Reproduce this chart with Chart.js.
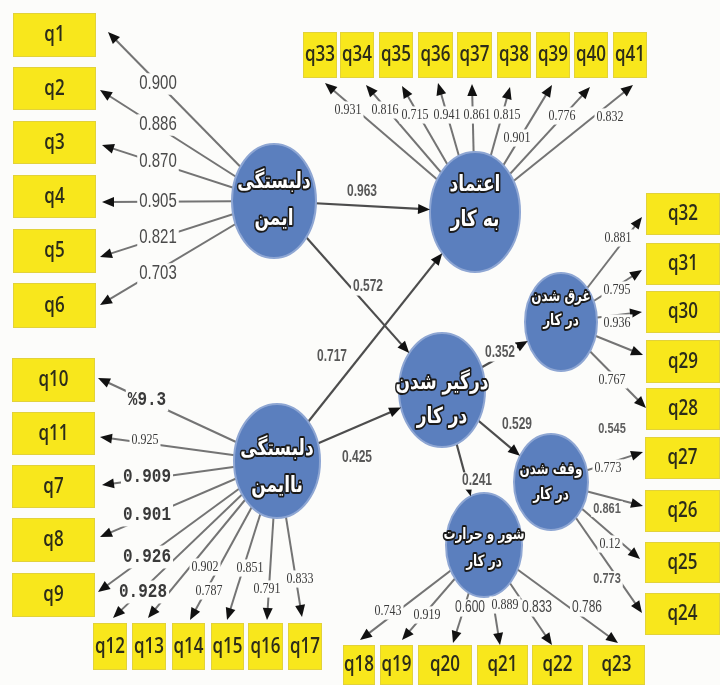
<!DOCTYPE html>
<html>
<head>
<meta charset="utf-8">
<script src="https://cdn.jsdelivr.net/npm/chart.js@4.4.0/dist/chart.umd.min.js"></script>
<style>
  html, body { margin: 0; padding: 0; background: #fcfcfa; }
  canvas { display: block; }
</style>
</head>
<body>
<canvas id="pathChart" width="720" height="685"></canvas>
<script>
// --- data -------------------------------------------------------------
const constructNames = [
  ['دلبستگی', 'ایمن'],
  ['دلبستگی', 'ناایمن'],
  ['اعتماد', 'به کار'],
  ['درگیر شدن', 'در کار'],
  ['غرق شدن', 'در کار'],
  ['وقف شدن', 'در کار'],
  ['شور و حرارت', 'در کار']
];

const securedItems = ['q1', 'q2', 'q3', 'q4', 'q5', 'q6'];
const securedLoadings = ['0.900', '0.886', '0.870', '0.905', '0.821', '0.703'];

const insecureItems = ['q10', 'q11', 'q7', 'q8', 'q9', 'q12', 'q13', 'q14', 'q15', 'q16', 'q17'];
const insecureLoadings = ['%9.3', '0.925', '0.909', '0.901', '0.926', '0.928', '0.902', '0.787', '0.851', '0.791', '0.833'];

const trustItems = ['q33', 'q34', 'q35', 'q36', 'q37', 'q38', 'q39', 'q40', 'q41'];
const trustLoadings = ['0.931', '0.816', '0.715', '0.941', '0.861', '0.815', '0.901', '0.776', '0.832'];

const absorptionItems = ['q32', 'q31', 'q30', 'q29', 'q28'];
const absorptionLoadings = ['0.881', '0.795', '0.936', '0.545', '0.767'];

const dedicationItems = ['q27', 'q26', 'q25', 'q24'];
const dedicationLoadings = ['0.773', '0.861', '0.12', '0.773'];

const vigorItems = ['q18', 'q19', 'q20', 'q21', 'q22', 'q23'];
const vigorLoadings = ['0.743', '0.919', '0.600', '0.889', '0.833', '0.786'];

const pathFrom = [0, 0, 1, 1, 3, 3, 3];
const pathTo = [2, 3, 2, 3, 4, 5, 6];
const pathCoefs = ['0.963', '0.572', '0.717', '0.425', '0.352', '0.529', '0.241'];

// --- layout (canvas units) ---------------------------------------------
// ellipse: cx, cy, rx, ry
const nodeLayout = [
  [274, 201, 42, 57], [277, 461, 43, 57], [475, 212, 45, 60], [442, 390, 43, 57],
  [561, 322, 36, 49], [551, 482, 37, 48], [484, 545, 38, 52]
];
// text: middle y, line gap, font size
const nodeText = [
  [201, 37, 17], [468, 37, 17], [203, 35, 17], [400, 34, 17],
  [309, 24, 12], [482, 25, 12], [548, 27, 12]
];

const groups = [
  { node: 0, items: securedItems, loadings: securedLoadings, fonts: 'SSSSSS',
    boxes: [[13,13,83,44],[13,67,83,43],[13,121,83,43],[13,175,83,43],[13,229,83,44],[13,283,83,45]],
    tips: [[108,32],[100,90],[102,145],[102,202],[100,257],[100,305]],
    labels: [[158,84],[158,125],[158,162],[158,202],[158,238],[158,274]] },
  { node: 1, items: insecureItems, loadings: insecureLoadings, fonts: 'MRMMMMRRRRR',
    boxes: [[12,358,83,44],[12,412,83,43],[12,465,83,43],[12,518,83,44],[12,573,83,44],
            [93,623,34,47],[132,623,34,47],[172,623,33,47],[211,623,33,47],[248,623,35,47],[288,623,34,47]],
    tips: [[98,378],[100,437],[102,485],[100,537],[98,592],[113,618],[148,618],[190,620],[227,620],[267,620],[302,617]],
    labels: [[147,400],[145,440],[147,477],[147,515],[147,557],[143,592],[205,567],[209,591],[250,568],[267,589],[300,579]] },
  { node: 2, items: trustItems, loadings: trustLoadings, fonts: 'RRRRRRRRR',
    boxes: [[303,32,34,46],[340,32,34,46],[379,32,34,46],[418,32,35,46],[457,32,35,46],[497,32,34,46],[536,32,34,46],[574,32,34,46],[613,32,34,46]],
    tips: [[325,83],[366,85],[402,86],[438,83],[472,84],[510,87],[552,85],[590,87],[633,85]],
    labels: [[348,110],[385,110],[415,115],[447,115],[477,115],[507,115],[517,138],[562,116],[610,117]] },
  { node: 4, items: absorptionItems, loadings: absorptionLoadings, fonts: 'RRRBR',
    boxes: [[646,193,74,42],[646,243,74,42],[646,291,74,42],[646,340,74,43],[646,388,74,42]],
    tips: [[642,217],[642,270],[642,312],[643,355],[646,408]],
    labels: [[618,238],[617,290],[617,323],[612,429],[612,380]] },
  { node: 5, items: dedicationItems, loadings: dedicationLoadings, fonts: 'RBRB',
    boxes: [[645,437,75,42],[645,490,75,42],[645,542,75,41],[645,593,75,42]],
    tips: [[643,452],[643,506],[640,559],[642,613]],
    labels: [[608,468],[607,509],[610,544],[607,579]] },
  { node: 6, items: vigorItems, loadings: vigorLoadings, fonts: 'RRNRNN',
    boxes: [[343,645,32,40],[380,645,33,40],[418,645,54,40],[477,645,51,40],[532,645,51,40],[588,645,57,40]],
    tips: [[360,640],[402,640],[453,643],[500,645],[552,645],[618,643]],
    labels: [[388,611],[427,615],[470,608],[505,605],[537,608],[587,608]] }
];

const pathLabels = [[362,192],[368,287],[332,357],[357,458],[500,353],[517,425],[477,481]];

const fontStyles = {
  S: { size: 15, font: '15px "Liberation Sans"', color: '#4a4a4a' },
  R: { size: 12, font: '12px "Liberation Serif"', color: '#3a3a3a' },
  M: { size: 16, font: 'bold 16px "Liberation Mono"', color: '#3a3a3a' },
  B: { size: 11, font: 'bold 11px "Liberation Sans"', color: '#5e5e5e' },
  N: { size: 12, font: '12px "Liberation Sans"', color: '#444444' },
  P: { size: 12, font: 'bold 12px "Liberation Sans"', color: '#585858' }
};
const TEXT_SY = 1.3;
const BG = '#fcfcfa';

// tip of an arrow that ends on an ellipse
function ellipseTip(src, dst) {
  const dx = dst[0] - src[0], dy = dst[1] - src[1];
  const s = 1 / Math.sqrt((dx / dst[2]) ** 2 + (dy / dst[3]) ** 2);
  return [dst[0] - s * dx, dst[1] - s * dy];
}

// edges: every line is a dataset on the chart's scales
const edges = [];
groups.forEach(g => {
  const n = nodeLayout[g.node];
  g.tips.forEach(t => edges.push({ from: [n[0], n[1]], tip: t, color: '#747474', width: 2 }));
});
pathFrom.forEach((f, i) => {
  const tip = ellipseTip(nodeLayout[f], nodeLayout[pathTo[i]]);
  edges.push({ from: [nodeLayout[f][0], nodeLayout[f][1]], tip: tip, color: '#4d4d4d', width: 2.2 });
});

const datasets = edges.map(e => {
  const dx = e.tip[0] - e.from[0], dy = e.tip[1] - e.from[1], d = Math.hypot(dx, dy);
  return {
    data: [{ x: e.from[0], y: e.from[1] }, { x: e.tip[0] - dx / d * 6, y: e.tip[1] - dy / d * 6 }],
    showLine: true, borderColor: e.color, borderWidth: e.width,
    pointRadius: 0, pointHoverRadius: 0, clip: false
  };
});

function drawText(ctx, txt, x, y, style, withBg) {
  ctx.save();
  ctx.translate(x, y);
  ctx.scale(1, TEXT_SY);
  ctx.font = style.font;
  ctx.textAlign = 'center';
  ctx.textBaseline = 'middle';
  if (withBg) {
    const w = ctx.measureText(txt).width + 4;
    ctx.fillStyle = BG;
    ctx.fillRect(-w / 2, -style.size * 0.55, w, style.size * 1.1);
  }
  ctx.fillStyle = style.color;
  ctx.fillText(txt, 0, 0);
  ctx.restore();
}

const diagramPlugin = {
  id: 'diagram',
  beforeDraw(chart) {
    const ctx = chart.ctx;
    ctx.save();
    ctx.fillStyle = BG;
    ctx.fillRect(0, 0, chart.width, chart.height);
    ctx.restore();
  },
  beforeDatasetsDraw(chart) {
    const ctx = chart.ctx, X = chart.scales.x, Y = chart.scales.y;
    ctx.save();
    groups.forEach(g => {
      g.boxes.forEach(b => {
        const x0 = X.getPixelForValue(b[0]), y0 = Y.getPixelForValue(b[1]);
        const x1 = X.getPixelForValue(b[0] + b[2]), y1 = Y.getPixelForValue(b[1] + b[3]);
        ctx.fillStyle = '#f8e71c';
        ctx.fillRect(x0, y0, x1 - x0, y1 - y0);
        ctx.strokeStyle = '#e2d23a';
        ctx.lineWidth = 1;
        ctx.strokeRect(x0 + 0.5, y0 + 0.5, x1 - x0 - 1, y1 - y0 - 1);
      });
    });
    ctx.restore();
  },
  afterDatasetsDraw(chart) {
    const ctx = chart.ctx, X = chart.scales.x, Y = chart.scales.y;
    const px = v => X.getPixelForValue(v), py = v => Y.getPixelForValue(v);
    ctx.save();

    // latent variables
    nodeLayout.forEach(n => {
      ctx.beginPath();
      ctx.ellipse(px(n[0]), py(n[1]), n[2], n[3], 0, 0, Math.PI * 2);
      ctx.fillStyle = '#5b7fbe';
      ctx.fill();
      ctx.strokeStyle = '#8ea6d3';
      ctx.lineWidth = 2;
      ctx.stroke();
    });

    // arrow heads
    ctx.fillStyle = '#111111';
    edges.forEach(e => {
      const tx = px(e.tip[0]), ty = py(e.tip[1]);
      const a = Math.atan2(ty - py(e.from[1]), tx - px(e.from[0]));
      const len = 12, half = 5;
      const bx = tx - len * Math.cos(a), by = ty - len * Math.sin(a);
      ctx.beginPath();
      ctx.moveTo(tx, ty);
      ctx.lineTo(bx - half * Math.sin(a), by + half * Math.cos(a));
      ctx.lineTo(bx + half * Math.sin(a), by - half * Math.cos(a));
      ctx.closePath();
      ctx.fill();
    });

    // loading labels
    groups.forEach(g => {
      g.loadings.forEach((v, i) => {
        const p = g.labels[i];
        drawText(ctx, v, px(p[0]), py(p[1]), fontStyles[g.fonts[i]], true);
      });
    });
    pathCoefs.forEach((v, i) => {
      const p = pathLabels[i];
      drawText(ctx, v, px(p[0]), py(p[1]), fontStyles.P, true);
    });

    // indicator names
    groups.forEach(g => {
      g.items.forEach((name, i) => {
        const b = g.boxes[i];
        drawText(ctx, name, px(b[0] + b[2] / 2), py(b[1] + b[3] / 2),
          { size: 17, font: '600 17px "Open Sans"', color: '#2c2c1a' }, false);
      });
    });

    // construct names
    constructNames.forEach((lines, i) => {
      const n = nodeLayout[i], t = nodeText[i];
      lines.forEach((txt, k) => {
        const y = t[0] + (k === 0 ? -t[1] / 2 : t[1] / 2);
        ctx.save();
        ctx.translate(px(n[0]), py(y));
        ctx.scale(1, TEXT_SY);
        ctx.font = 'bold ' + t[2] + 'px "DejaVu Sans"';
        ctx.direction = 'rtl';
        ctx.textAlign = 'center';
        ctx.textBaseline = 'middle';
        ctx.lineJoin = 'round';
        ctx.lineWidth = 3;
        ctx.strokeStyle = '#1b1b1b';
        ctx.strokeText(txt, 0, 0);
        ctx.fillStyle = '#ffffff';
        ctx.fillText(txt, 0, 0);
        ctx.restore();
      });
    });
    ctx.restore();
  }
};

new Chart(document.getElementById('pathChart'), {
  type: 'scatter',
  data: { datasets: datasets },
  options: {
    responsive: false,
    devicePixelRatio: 1,
    animation: false,
    events: [],
    layout: { padding: 0 },
    scales: {
      x: { type: 'linear', min: 0, max: 720, display: false },
      y: { type: 'linear', min: 0, max: 685, reverse: true, display: false }
    },
    plugins: { legend: { display: false }, tooltip: { enabled: false } }
  },
  plugins: [diagramPlugin]
});
</script>
</body>
</html>
